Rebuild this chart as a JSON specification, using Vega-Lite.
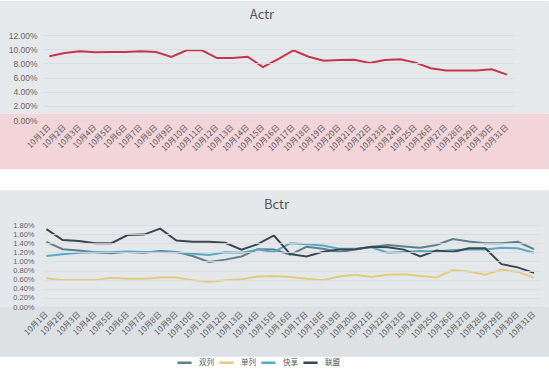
{
  "$schema": "https://vega.github.io/schema/vega-lite/v6.json",
  "background": "white",
  "padding": 0,
  "autosize": {"type": "pad"},
  "spacing": 20,
  "config": {
    "view": {"stroke": null},
    "font": "Noto Sans CJK SC",
    "axis": {"domain": false, "ticks": false, "gridColor": "#d8dce0", "gridWidth": 0.8, "labelColor": "#666666", "labelFont": "Noto Sans CJK SC", "labelFontSize": 8, "title": null},
    "title": {"font": "Noto Sans CJK SC", "fontSize": 13, "fontWeight": "normal", "color": "#555555"},
    "legend": {"labelFont": "Noto Sans CJK SC", "labelFontSize": 7.5, "labelColor": "#555555"}
  },
  "datasets": {
    "actr": [
      {"day": 1, "v": 0.0900}, {"day": 2, "v": 0.0946}, {"day": 3, "v": 0.0970}, {"day": 4, "v": 0.0955},
      {"day": 5, "v": 0.0960}, {"day": 6, "v": 0.0960}, {"day": 7, "v": 0.0970}, {"day": 8, "v": 0.0960},
      {"day": 9, "v": 0.0890}, {"day": 10, "v": 0.0983}, {"day": 11, "v": 0.0983}, {"day": 12, "v": 0.0875},
      {"day": 13, "v": 0.0875}, {"day": 14, "v": 0.0894}, {"day": 15, "v": 0.0748}, {"day": 16, "v": 0.0860},
      {"day": 17, "v": 0.0983}, {"day": 18, "v": 0.0894}, {"day": 19, "v": 0.0838}, {"day": 20, "v": 0.0847},
      {"day": 21, "v": 0.0850}, {"day": 22, "v": 0.0805}, {"day": 23, "v": 0.0847}, {"day": 24, "v": 0.0856},
      {"day": 25, "v": 0.0810}, {"day": 26, "v": 0.0730}, {"day": 27, "v": 0.0700}, {"day": 28, "v": 0.0700},
      {"day": 29, "v": 0.0700}, {"day": 30, "v": 0.0715}, {"day": 31, "v": 0.0640}
    ],
    "bctr": [
      {"day": 1, "s": "双列", "v": 0.0143}, {"day": 2, "s": "双列", "v": 0.0127}, {"day": 3, "s": "双列", "v": 0.0124}, {"day": 4, "s": "双列", "v": 0.0120},
      {"day": 5, "s": "双列", "v": 0.0118}, {"day": 6, "s": "双列", "v": 0.0121}, {"day": 7, "s": "双列", "v": 0.0119}, {"day": 8, "s": "双列", "v": 0.0123},
      {"day": 9, "s": "双列", "v": 0.0121}, {"day": 10, "s": "双列", "v": 0.0112}, {"day": 11, "s": "双列", "v": 0.0099}, {"day": 12, "s": "双列", "v": 0.0104},
      {"day": 13, "s": "双列", "v": 0.0111}, {"day": 14, "s": "双列", "v": 0.0127}, {"day": 15, "s": "双列", "v": 0.0126}, {"day": 16, "s": "双列", "v": 0.0115},
      {"day": 17, "s": "双列", "v": 0.0132}, {"day": 18, "s": "双列", "v": 0.0128}, {"day": 19, "s": "双列", "v": 0.0121}, {"day": 20, "s": "双列", "v": 0.0126},
      {"day": 21, "s": "双列", "v": 0.0132}, {"day": 22, "s": "双列", "v": 0.0136}, {"day": 23, "s": "双列", "v": 0.0133}, {"day": 24, "s": "双列", "v": 0.0130},
      {"day": 25, "s": "双列", "v": 0.0136}, {"day": 26, "s": "双列", "v": 0.0149}, {"day": 27, "s": "双列", "v": 0.0144}, {"day": 28, "s": "双列", "v": 0.0140},
      {"day": 29, "s": "双列", "v": 0.0140}, {"day": 30, "s": "双列", "v": 0.0143}, {"day": 31, "s": "双列", "v": 0.0127},
      {"day": 1, "s": "单列", "v": 0.0063}, {"day": 2, "s": "单列", "v": 0.0059}, {"day": 3, "s": "单列", "v": 0.0059}, {"day": 4, "s": "单列", "v": 0.0059},
      {"day": 5, "s": "单列", "v": 0.0064}, {"day": 6, "s": "单列", "v": 0.0062}, {"day": 7, "s": "单列", "v": 0.0062}, {"day": 8, "s": "单列", "v": 0.0065},
      {"day": 9, "s": "单列", "v": 0.0065}, {"day": 10, "s": "单列", "v": 0.0059}, {"day": 11, "s": "单列", "v": 0.0055}, {"day": 12, "s": "单列", "v": 0.0059},
      {"day": 13, "s": "单列", "v": 0.0061}, {"day": 14, "s": "单列", "v": 0.0067}, {"day": 15, "s": "单列", "v": 0.0068}, {"day": 16, "s": "单列", "v": 0.0066},
      {"day": 17, "s": "单列", "v": 0.0062}, {"day": 18, "s": "单列", "v": 0.0059}, {"day": 19, "s": "单列", "v": 0.0067}, {"day": 20, "s": "单列", "v": 0.0071},
      {"day": 21, "s": "单列", "v": 0.0066}, {"day": 22, "s": "单列", "v": 0.0071}, {"day": 23, "s": "单列", "v": 0.0072}, {"day": 24, "s": "单列", "v": 0.0068},
      {"day": 25, "s": "单列", "v": 0.0065}, {"day": 26, "s": "单列", "v": 0.0081}, {"day": 27, "s": "单列", "v": 0.0078}, {"day": 28, "s": "单列", "v": 0.0071},
      {"day": 29, "s": "单列", "v": 0.0082}, {"day": 30, "s": "单列", "v": 0.0077}, {"day": 31, "s": "单列", "v": 0.0064},
      {"day": 1, "s": "快享", "v": 0.0112}, {"day": 2, "s": "快享", "v": 0.0116}, {"day": 3, "s": "快享", "v": 0.0119}, {"day": 4, "s": "快享", "v": 0.0120},
      {"day": 5, "s": "快享", "v": 0.0120}, {"day": 6, "s": "快享", "v": 0.0122}, {"day": 7, "s": "快享", "v": 0.0121}, {"day": 8, "s": "快享", "v": 0.0121},
      {"day": 9, "s": "快享", "v": 0.0120}, {"day": 10, "s": "快享", "v": 0.0117}, {"day": 11, "s": "快享", "v": 0.0114}, {"day": 12, "s": "快享", "v": 0.0120},
      {"day": 13, "s": "快享", "v": 0.0119}, {"day": 14, "s": "快享", "v": 0.0126}, {"day": 15, "s": "快享", "v": 0.0121}, {"day": 16, "s": "快享", "v": 0.0140},
      {"day": 17, "s": "快享", "v": 0.0138}, {"day": 18, "s": "快享", "v": 0.0135}, {"day": 19, "s": "快享", "v": 0.0128}, {"day": 20, "s": "快享", "v": 0.0128},
      {"day": 21, "s": "快享", "v": 0.0131}, {"day": 22, "s": "快享", "v": 0.0119}, {"day": 23, "s": "快享", "v": 0.0121}, {"day": 24, "s": "快享", "v": 0.0123},
      {"day": 25, "s": "快享", "v": 0.0122}, {"day": 26, "s": "快享", "v": 0.0125}, {"day": 27, "s": "快享", "v": 0.0126}, {"day": 28, "s": "快享", "v": 0.0126},
      {"day": 29, "s": "快享", "v": 0.0130}, {"day": 30, "s": "快享", "v": 0.0129}, {"day": 31, "s": "快享", "v": 0.0119},
      {"day": 1, "s": "联盟", "v": 0.0171}, {"day": 2, "s": "联盟", "v": 0.0147}, {"day": 3, "s": "联盟", "v": 0.0145}, {"day": 4, "s": "联盟", "v": 0.0140},
      {"day": 5, "s": "联盟", "v": 0.0140}, {"day": 6, "s": "联盟", "v": 0.0158}, {"day": 7, "s": "联盟", "v": 0.0159}, {"day": 8, "s": "联盟", "v": 0.0172},
      {"day": 9, "s": "联盟", "v": 0.0146}, {"day": 10, "s": "联盟", "v": 0.0143}, {"day": 11, "s": "联盟", "v": 0.0143}, {"day": 12, "s": "联盟", "v": 0.0141},
      {"day": 13, "s": "联盟", "v": 0.0126}, {"day": 14, "s": "联盟", "v": 0.0138}, {"day": 15, "s": "联盟", "v": 0.0157}, {"day": 16, "s": "联盟", "v": 0.0116},
      {"day": 17, "s": "联盟", "v": 0.0111}, {"day": 18, "s": "联盟", "v": 0.0121}, {"day": 19, "s": "联盟", "v": 0.0126}, {"day": 20, "s": "联盟", "v": 0.0127},
      {"day": 21, "s": "联盟", "v": 0.0132}, {"day": 22, "s": "联盟", "v": 0.0131}, {"day": 23, "s": "联盟", "v": 0.0126}, {"day": 24, "s": "联盟", "v": 0.0111},
      {"day": 25, "s": "联盟", "v": 0.0124}, {"day": 26, "s": "联盟", "v": 0.0121}, {"day": 27, "s": "联盟", "v": 0.0129}, {"day": 28, "s": "联盟", "v": 0.0129},
      {"day": 29, "s": "联盟", "v": 0.0094}, {"day": 30, "s": "联盟", "v": 0.0087}, {"day": 31, "s": "联盟", "v": 0.0075}
    ]
  },
  "vconcat": [
    {
      "width": 470,
      "height": 85,
      "title": {"text": "Actr", "offset": -21, "dx": -17},
      "layer": [
        {
          "data": {"values": [{}]},
          "mark": {"type": "rect", "color": "#e6e9ec"},
          "encoding": {
            "x": {"datum": -2.23, "type": "quantitative",
                  "axis": {"zindex": 1, "grid": false, "values": [1,2,3,4,5,6,7,8,9,10,11,12,13,14,15,16,17,18,19,20,21,22,23,24,25,26,27,28,29,30,31],
                       "labelExpr": "'10月' + datum.value + '日'", "labelAngle": -45, "labelAlign": "right", "labelBaseline": "middle",
                       "labelOverlap": false, "labelFlush": false, "labelBound": false, "labelPadding": 6, "labelColor": "#555555"}},
            "x2": {"datum": 33.75},
            "y": {"datum": 0.16842, "type": "quantitative",
                  "axis": {"zindex": 1, "grid": true, "labelOverlap": false, "values": [0, 0.02, 0.04, 0.06, 0.08, 0.1, 0.12], "format": ".2%", "labelPadding": 7, "labelFont": "Liberation Sans Narrow, Liberation Sans", "labelFontSize": 8.5}},
            "y2": {"datum": 0.00889}
          }
        },
        {
          "data": {"values": [{}]},
          "mark": {"type": "rect", "color": "#f2d4d9"},
          "encoding": {
            "x": {"datum": -2.23, "type": "quantitative",
                  "axis": {"zindex": 1, "grid": false, "values": [1,2,3,4,5,6,7,8,9,10,11,12,13,14,15,16,17,18,19,20,21,22,23,24,25,26,27,28,29,30,31],
                       "labelExpr": "'10月' + datum.value + '日'", "labelAngle": -45, "labelAlign": "right", "labelBaseline": "middle",
                       "labelOverlap": false, "labelFlush": false, "labelBound": false, "labelPadding": 6, "labelColor": "#555555"}},
            "x2": {"datum": 33.75},
            "y": {"datum": 0.00889, "type": "quantitative",
                  "axis": {"zindex": 1, "grid": true, "labelOverlap": false, "values": [0, 0.02, 0.04, 0.06, 0.08, 0.1, 0.12], "format": ".2%", "labelPadding": 7, "labelFont": "Liberation Sans Narrow, Liberation Sans", "labelFontSize": 8.5}},
            "y2": {"datum": -0.06946}
          }
        },
        {
          "data": {"name": "actr"},
          "mark": {"type": "line", "color": "#c8344b", "strokeWidth": 2},
          "encoding": {
            "x": {
              "field": "day", "type": "quantitative",
              "scale": {"domain": [0.653, 31.46], "nice": false, "zero": false},
              "axis": {"zindex": 1, "grid": false, "values": [1,2,3,4,5,6,7,8,9,10,11,12,13,14,15,16,17,18,19,20,21,22,23,24,25,26,27,28,29,30,31],
                       "labelExpr": "'10月' + datum.value + '日'", "labelAngle": -45, "labelAlign": "right", "labelBaseline": "middle",
                       "labelOverlap": false, "labelFlush": false, "labelBound": false, "labelPadding": 6, "labelColor": "#555555"}
            },
            "y": {
              "field": "v", "type": "quantitative",
              "scale": {"domain": [0, 0.12], "nice": false},
              "axis": {"zindex": 1, "grid": true, "labelOverlap": false, "values": [0, 0.02, 0.04, 0.06, 0.08, 0.1, 0.12], "format": ".2%", "labelPadding": 7, "labelFont": "Liberation Sans Narrow, Liberation Sans", "labelFontSize": 8.5}
            }
          }
        }
      ]
    },
    {
      "width": 497,
      "height": 82,
      "title": {"text": "Bctr", "offset": -22, "dx": -16},
      "layer": [
        {
          "data": {"values": [{}]},
          "mark": {"type": "rect", "color": "#e5e8eb"},
          "encoding": {
            "x": {"datum": -1.855, "type": "quantitative",
                  "axis": {"zindex": 1, "grid": false, "values": [1,2,3,4,5,6,7,8,9,10,11,12,13,14,15,16,17,18,19,20,21,22,23,24,25,26,27,28,29,30,31],
                       "labelExpr": "'10月' + datum.value + '日'", "labelAngle": -45, "labelAlign": "right", "labelBaseline": "middle",
                       "labelOverlap": false, "labelFlush": false, "labelBound": false, "labelPadding": 6, "labelColor": "#555555"}},
            "x2": {"datum": 31.92},
            "y": {"datum": 0.02562, "type": "quantitative",
                  "axis": {"zindex": 1, "grid": true, "labelOverlap": false, "values": [0, 0.002, 0.004, 0.006, 0.008, 0.01, 0.012, 0.014, 0.016, 0.018], "format": ".2%", "labelPadding": 10, "labelFont": "Liberation Sans Narrow, Liberation Sans", "labelFontSize": 7.5}},
            "y2": {"datum": 0}
          }
        },
        {
          "data": {"values": [{}]},
          "mark": {"type": "rect", "color": "#dde1e4"},
          "encoding": {
            "x": {"datum": -1.855, "type": "quantitative",
                  "axis": {"zindex": 1, "grid": false, "values": [1,2,3,4,5,6,7,8,9,10,11,12,13,14,15,16,17,18,19,20,21,22,23,24,25,26,27,28,29,30,31],
                       "labelExpr": "'10月' + datum.value + '日'", "labelAngle": -45, "labelAlign": "right", "labelBaseline": "middle",
                       "labelOverlap": false, "labelFlush": false, "labelBound": false, "labelPadding": 6, "labelColor": "#555555"}},
            "x2": {"datum": 31.92},
            "y": {"datum": 0, "type": "quantitative",
                  "axis": {"zindex": 1, "grid": true, "labelOverlap": false, "values": [0, 0.002, 0.004, 0.006, 0.008, 0.01, 0.012, 0.014, 0.016, 0.018], "format": ".2%", "labelPadding": 10, "labelFont": "Liberation Sans Narrow, Liberation Sans", "labelFontSize": 7.5}},
            "y2": {"datum": -0.01093}
          }
        },
        {
          "data": {"name": "bctr"},
          "mark": {"type": "line", "strokeWidth": 2},
          "encoding": {
            "x": {
              "field": "day", "type": "quantitative",
              "scale": {"domain": [0.852, 31.43], "nice": false, "zero": false},
              "axis": {"zindex": 1, "grid": false, "values": [1,2,3,4,5,6,7,8,9,10,11,12,13,14,15,16,17,18,19,20,21,22,23,24,25,26,27,28,29,30,31],
                       "labelExpr": "'10月' + datum.value + '日'", "labelAngle": -45, "labelAlign": "right", "labelBaseline": "middle",
                       "labelOverlap": false, "labelFlush": false, "labelBound": false, "labelPadding": 6, "labelColor": "#555555"}
            },
            "y": {
              "field": "v", "type": "quantitative",
              "scale": {"domain": [0, 0.018], "nice": false},
              "axis": {"zindex": 1, "grid": true, "labelOverlap": false, "values": [0, 0.002, 0.004, 0.006, 0.008, 0.01, 0.012, 0.014, 0.016, 0.018], "format": ".2%", "labelPadding": 10, "labelFont": "Liberation Sans Narrow, Liberation Sans", "labelFontSize": 7.5}
            },
            "color": {
              "field": "s", "type": "nominal",
              "scale": {"domain": ["双列", "单列", "快享", "联盟"], "range": ["#5f7f8a", "#e2cb7e", "#5aa8c5", "#39474f"]},
              "legend": {"title": null, "orient": "none", "legendX": 132, "legendY": 319, "direction": "horizontal", "symbolType": "stroke", "symbolStrokeWidth": 2.5, "symbolSize": 200, "columnPadding": 0, "labelOffset": 6}
            }
          }
        }
      ]
    }
  ]
}
